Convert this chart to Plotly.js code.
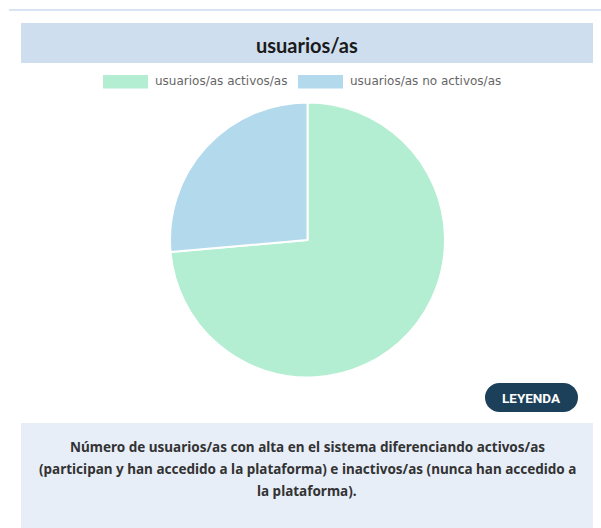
<!DOCTYPE html>
<html>
<head>
<meta charset="utf-8">
<script src="https://cdn.plot.ly/plotly-3.0.1.min.js"></script>
<style>
  html, body { margin: 0; padding: 0; background: #ffffff; }
  #chart { width: 601px; height: 528px; }
</style>
</head>
<body>
<div id="chart"></div>
<script>
// ---- data ----
const chartTitle = "usuarios/as";
const labels = ["usuarios/as activos/as", "usuarios/as no activos/as"];
const values = [73.6, 26.4];
const colors = ["#b3eed2", "#b3d9ed"];
const buttonText = "LEYENDA";
const descriptionLines = [
  "Número de usuarios/as con alta en el sistema diferenciando activos/as",
  "(participan y han accedido a la plataforma) e inactivos/as (nunca han accedido a",
  "la plataforma)."
];

// ---- layout helpers (pixel -> paper) ----
const W = 601, H = 528;
const px = x => x / W;
const py = y => (H - y) / H;

const shapes = [];
const annotations = [];

// top thin line
shapes.push({type: "line", xref: "paper", yref: "paper",
  x0: px(9), x1: px(601), y0: py(10), y1: py(10),
  line: {color: "#d8e4f1", width: 2}});

// title bar
shapes.push({type: "rect", xref: "paper", yref: "paper",
  x0: px(21), x1: px(593), y0: py(23), y1: py(63),
  fillcolor: "#cfdeee", line: {width: 0}, layer: "below"});
annotations.push({xref: "paper", yref: "paper", x: px(307), y: py(45),
  text: "<b>" + chartTitle + "</b>", showarrow: false,
  font: {family: "Lato, 'Noto Sans', sans-serif", size: 20, color: "#1a1a1a"},
  xanchor: "center", yanchor: "middle"});

// custom legend
const legendItems = [
  {sx0: 103, sx1: 148, tx: 153},
  {sx0: 298, sx1: 343, tx: 348}
];
legendItems.forEach((it, i) => {
  shapes.push({type: "rect", xref: "paper", yref: "paper",
    x0: px(it.sx0), x1: px(it.sx1), y0: py(75), y1: py(88.5),
    fillcolor: colors[i], line: {width: 0}});
  annotations.push({xref: "paper", yref: "paper", x: px(it.tx), y: py(81),
    text: labels[i], showarrow: false,
    font: {family: "'DejaVu Sans', Verdana, sans-serif", size: 12, color: "#666666"},
    xanchor: "left", yanchor: "middle"});
});

// LEYENDA pill button
const bx0 = 485, bx1 = 578, by0 = 383, by1 = 412, br = (by1 - by0) / 2;
const btnColor = "#1c3f5a";
shapes.push({type: "rect", xref: "paper", yref: "paper",
  x0: px(bx0 + br), x1: px(bx1 - br), y0: py(by0), y1: py(by1),
  fillcolor: btnColor, line: {width: 0}});
shapes.push({type: "circle", xref: "paper", yref: "paper",
  x0: px(bx0), x1: px(bx0 + 2 * br), y0: py(by0), y1: py(by1),
  fillcolor: btnColor, line: {width: 0}});
shapes.push({type: "circle", xref: "paper", yref: "paper",
  x0: px(bx1 - 2 * br), x1: px(bx1), y0: py(by0), y1: py(by1),
  fillcolor: btnColor, line: {width: 0}});
annotations.push({xref: "paper", yref: "paper", x: px(531.5), y: py(397.5),
  text: "<b>" + buttonText + "</b>", showarrow: false,
  font: {family: "Roboto, sans-serif", size: 13.5, color: "#ffffff"},
  xanchor: "center", yanchor: "middle"});

// description box
shapes.push({type: "rect", xref: "paper", yref: "paper",
  x0: px(21), x1: px(593), y0: py(423), y1: py(528),
  fillcolor: "#e7eef8", line: {width: 0}, layer: "below"});
const lineY = [447, 469, 491];
descriptionLines.forEach((t, i) => {
  annotations.push({xref: "paper", yref: "paper", x: px(307), y: py(lineY[i]),
    text: "<b>" + t + "</b>", showarrow: false,
    font: {family: "'Noto Sans', sans-serif", size: 13.5, color: "#333333"},
    xanchor: "center", yanchor: "middle"});
});

// pie
const cx = 307.5, cy = 240, r = 137.5;
const trace = {
  type: "pie",
  labels: labels,
  values: values,
  sort: false,
  direction: "clockwise",
  rotation: 0,
  textinfo: "none",
  hoverinfo: "label+value",
  marker: {colors: colors, line: {color: "#ffffff", width: 2}},
  domain: {x: [px(cx - r), px(cx + r)], y: [py(cy + r), py(cy - r)]},
  showlegend: false
};

const layout = {
  width: W, height: H,
  margin: {l: 0, r: 0, t: 0, b: 0},
  paper_bgcolor: "#ffffff",
  showlegend: false,
  shapes: shapes,
  annotations: annotations
};

Plotly.newPlot("chart", [trace], layout, {displayModeBar: false, staticPlot: true});
</script>
</body>
</html>
